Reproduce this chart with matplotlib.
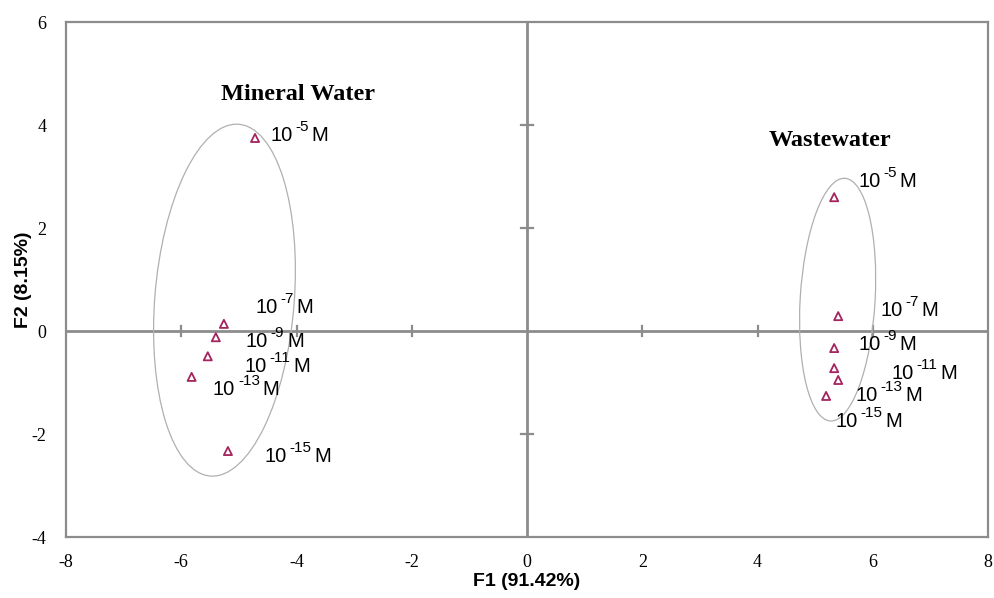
import matplotlib
matplotlib.use("Agg")
import matplotlib.pyplot as plt
from matplotlib.patches import Ellipse

plt.rcParams['font.family'] = ['Liberation Sans', 'DejaVu Sans']
plt.rcParams['axes.unicode_minus'] = False

# Data (F1, F2 scores)
concentrations = ['-5', '-7', '-9', '-11', '-13', '-15']
mineral_f1 = [-4.72, -5.26, -5.40, -5.54, -5.82, -5.19]
mineral_f2 = [3.75, 0.14, -0.12, -0.49, -0.89, -2.33]
waste_f1 = [5.33, 5.40, 5.33, 5.33, 5.40, 5.19]
waste_f2 = [2.60, 0.29, -0.33, -0.72, -0.95, -1.26]

# Label anchor positions (data coords)
mineral_lab_x = [-4.46, -4.72, -4.88, -4.90, -5.45, -4.56]
mineral_lab_y = [3.79, 0.45, -0.21, -0.68, -1.14, -2.43]
waste_lab_x = [5.75, 6.13, 5.75, 6.32, 5.70, 5.35]
waste_lab_y = [2.90, 0.39, -0.27, -0.82, -1.26, -1.76]

# Confidence ellipses: center x, center y, width, height, angle
ell_mineral = (-5.25, 0.60, 2.42, 6.85, -4)
ell_waste = (5.39, 0.61, 1.30, 4.72, -3)

groups = ['Mineral Water', 'Wastewater']
group_x = [-3.98, 5.25]
group_y = [4.60, 3.70]

marker_color = '#a3245e'
axis_color = '#8c8c8c'

fig = plt.figure(figsize=(9.94, 5.98), dpi=100)
ax = fig.add_axes([0.0664, 0.102, 0.9276, 0.861])
ax.set_xlim(-8, 8)
ax.set_ylim(-4, 6)

for s in ax.spines.values():
    s.set_color(axis_color)
    s.set_linewidth(1.6)

ax.axhline(0, color=axis_color, lw=2.0, zorder=1)
ax.axvline(0, color=axis_color, lw=2.0, zorder=1)

# tick marks on the center lines
xt = [-6, -4, -2, 2, 4, 6]
yt = [-2, 2, 4]
for t in xt:
    ax.plot([t, t], [-0.1, 0.1], color=axis_color, lw=1.6, zorder=1)
for t in yt:
    ax.plot([-0.1, 0.1], [t, t], color=axis_color, lw=1.6, zorder=1)

ax.set_xticks(range(-8, 9, 2))
ax.set_yticks(range(-4, 7, 2))
ax.tick_params(length=0, pad=12)
for lab in ax.get_xticklabels() + ax.get_yticklabels():
    lab.set_fontfamily('Liberation Serif')
    lab.set_fontsize(13)
ax.tick_params(axis='y', pad=14)

for (cx, cy, w, h, a) in [ell_mineral, ell_waste]:
    ax.add_patch(Ellipse((cx, cy), w, h, angle=a, fill=False,
                         edgecolor='#b0b0b0', lw=0.9, zorder=2))

ax.scatter(mineral_f1, mineral_f2, marker='^', facecolors='none',
           edgecolors=marker_color, s=34, linewidths=1.3, zorder=3)
ax.scatter(waste_f1, waste_f2, marker='^', facecolors='none',
           edgecolors=marker_color, s=34, linewidths=1.3, zorder=3)


def conc_label(x, y, exp):
    base = ax.text(x, y, '10', fontsize=14.5, ha='left', va='center')
    sup = ax.annotate(exp, xy=(1, 0.58), xycoords=base, xytext=(2.0, 0),
                      textcoords='offset points', fontsize=11,
                      ha='left', va='bottom')
    ax.annotate('M', xy=(1, 0), xycoords=(sup, base), xytext=(2.0, 0),
                textcoords='offset points', fontsize=14.5,
                ha='left', va='bottom')


for c, x, y in zip(concentrations, mineral_lab_x, mineral_lab_y):
    conc_label(x, y, c)
for c, x, y in zip(concentrations, waste_lab_x, waste_lab_y):
    conc_label(x, y, c)

for g, x, y in zip(groups, group_x, group_y):
    ax.text(x, y, g, fontsize=17.5, fontweight='bold', family='Liberation Serif',
            ha='center', va='center')

ax.set_xlabel('F1 (91.42%)', fontsize=14, fontweight='bold', labelpad=2)
ax.set_ylabel('F2 (8.15%)', fontsize=14, fontweight='bold', labelpad=0)

fig.savefig('out.png', dpi=100)
